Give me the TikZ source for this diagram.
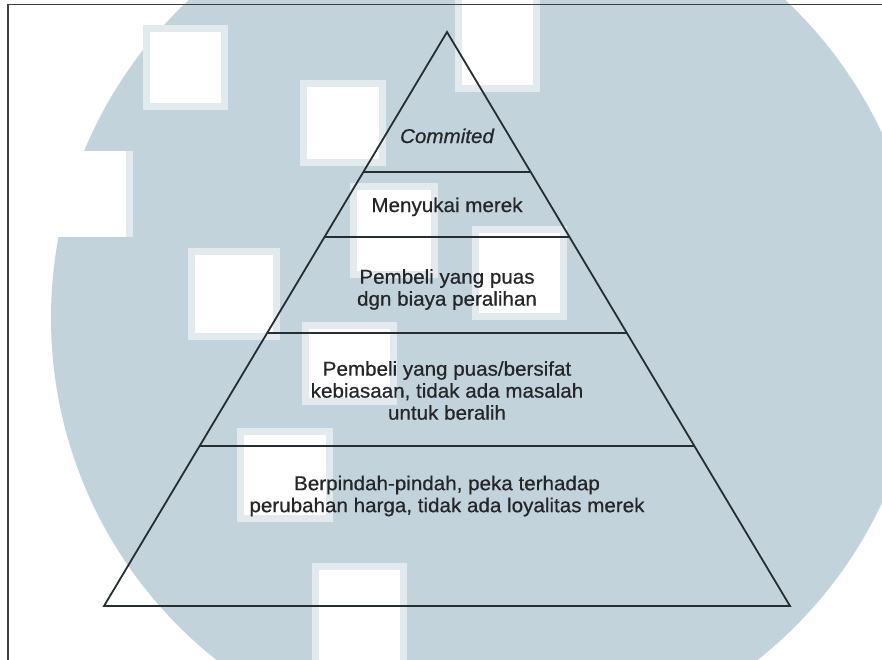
\documentclass[tikz,border=0pt]{standalone}
\usepackage{fontspec}
\setmainfont{Liberation Sans}[FakeStretch=1.03,FakeBold=0.6]
\usetikzlibrary{calc}
\definecolor{wmblue}{RGB}{194,211,219}
\definecolor{wmrim}{RGB}{226,234,238}
\definecolor{ink}{RGB}{38,46,50}
\definecolor{txt}{RGB}{36,38,40}
\tikzset{
  lbl/.style={text=txt, font=\fontsize{20}{22}\selectfont, align=center, inner sep=0pt},
  pyr/.style={draw=ink, line width=1.8pt, line join=miter},
  tier/.style={draw=ink, line width=1.6pt},
  frame/.style={draw=black!75, line width=1.4pt},
}
\begin{document}
\begin{tikzpicture}[x=1pt,y=-1pt]
\useasboundingbox (0,0) rectangle (882,659);
\begin{scope}
\clip (0,0) rectangle (882,659);
\fill[white] (0,0) rectangle (882,659);
% watermark
\fill[wmblue] (487,318) circle[radius=436pt];
\fill[wmrim] (126,151) rectangle (133,237);
\fill[white] (-20,151) rectangle (126,237);
\foreach \a/\b/\c/\d in {143/25/228/110, 300/80/386/166, 455/-10/540/92,
  188/248/280/340, 350/183/438/278, 472/226/567/320, 302/322/397/405, 237/428/333/522, 312/563/407/670}{
  \fill[wmrim] (\a,\b) rectangle (\c,\d);
  \fill[white] (\a+7,\b+7) rectangle (\c-7,\d-7);
}
% frame
\draw[frame] (8,700) -- (8,4.5) -- (900,4.5);
\end{scope}
% pyramid
\coordinate (A) at (447,32);
\coordinate (L) at (104,606);
\coordinate (R) at (790,606);
\draw[pyr] (A) -- (L) -- (R) -- cycle;
\coordinate (l1) at ($(A)!0.2439!(L)$); \coordinate (r1) at ($(A)!0.2439!(R)$);
\coordinate (l2) at ($(A)!0.3571!(L)$); \coordinate (r2) at ($(A)!0.3571!(R)$);
\coordinate (l3) at ($(A)!0.5244!(L)$); \coordinate (r3) at ($(A)!0.5244!(R)$);
\coordinate (l4) at ($(A)!0.7213!(L)$); \coordinate (r4) at ($(A)!0.7213!(R)$);
\draw[tier] (l1) -- (r1);
\draw[tier] (l2) -- (r2);
\draw[tier] (l3) -- (r3);
\draw[tier] (l4) -- (r4);
% labels
\node[lbl, anchor=base, font=\fontsize{20}{22}\selectfont\itshape] (t1) at (447,143) {Commited};
\node[lbl, anchor=base] (t2) at (447,212) {Menyukai merek};
\node[lbl] (t3) at (447,289.5) {Pembeli yang puas\\dgn biaya peralihan};
\node[lbl] (t4) at (447,390.5) {Pembeli yang puas/bersifat\\kebiasaan, tidak ada masalah\\untuk beralih};
\node[lbl] (t5) at (447,496) {Berpindah-pindah, peka terhadap\\perubahan harga, tidak ada loyalitas merek};
\end{tikzpicture}
\end{document}
